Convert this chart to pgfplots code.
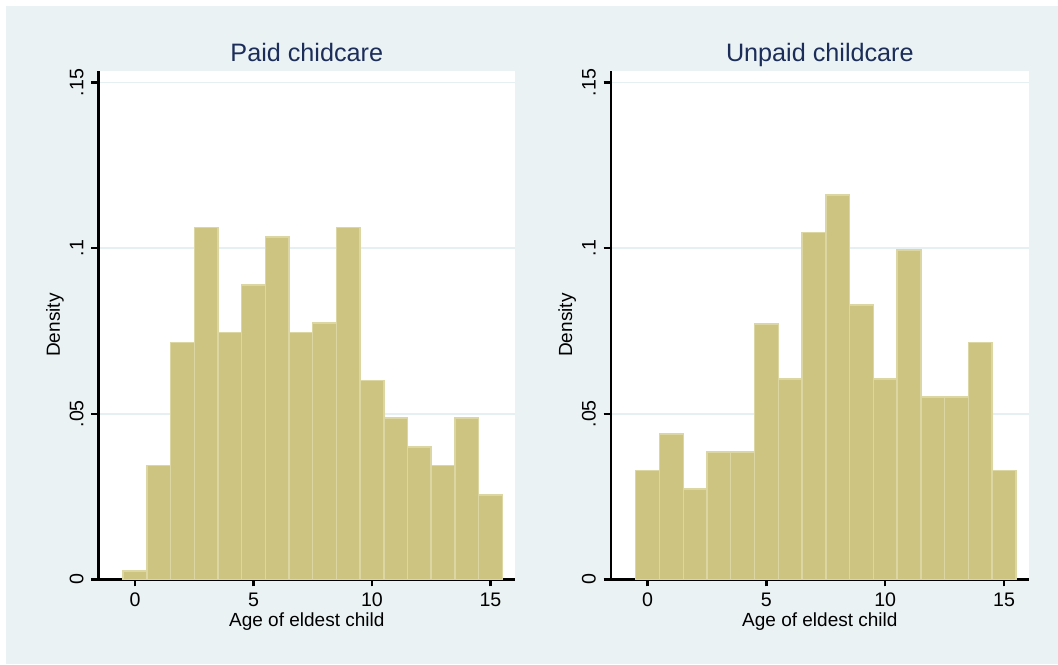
\documentclass[border=0pt]{standalone}
\usepackage{pgfplots}
\pgfplotsset{compat=1.18}
\usepackage{pgfplotstable}
\usepackage{fontspec}
\setmainfont{Liberation Sans}

\definecolor{bgc}{RGB}{234,242,243}
\definecolor{barfill}{RGB}{204,196,128}
\definecolor{barline}{RGB}{220,214,162}
\definecolor{ttl}{RGB}{28,45,90}
\definecolor{gridc}{RGB}{230,239,241}

% bin left edge, density (last row closes the final bin)
\pgfplotstableread{
x y
-0.5 0.0025
0.5 0.0343
1.5 0.0716
2.5 0.1062
3.5 0.0745
4.5 0.0889
5.5 0.1034
6.5 0.0745
7.5 0.0774
8.5 0.1062
9.5 0.0601
10.5 0.0487
11.5 0.0400
12.5 0.0343
13.5 0.0487
14.5 0.0255
15.5 0.0255
}\paid

\pgfplotstableread{
x y
-0.5 0.0329
0.5 0.0439
1.5 0.0273
2.5 0.0384
3.5 0.0384
4.5 0.0771
5.5 0.0605
6.5 0.1048
7.5 0.1161
8.5 0.0828
9.5 0.0605
10.5 0.0995
11.5 0.0550
12.5 0.0550
13.5 0.0716
14.5 0.0329
15.5 0.0329
}\unpaid

\pgfplotsset{
  statahist/.style={
    scale only axis,
    width=208.5pt, height=254.15pt,
    anchor=south west,
    xmin=-1.55, xmax=16.05,
    ymin=0, ymax=0.1535,
    axis x line*=bottom, axis y line*=left,
    axis line style={line width=1.2pt, black, -},
    axis background/.style={fill=white},
    tick align=outside,
    major tick length=3.5pt,
    tick style={line width=1.2pt, black},
    xtick={0,5,10,15},
    ytick={0,0.05,0.1,0.15},
    yticklabels={0,.05,.1,.15},
    /pgf/number format/assume math mode=true,
    ymajorgrids,
    grid style={gridc, line width=0.8pt},
    tick label style={font=\fontsize{9.8pt}{11pt}\selectfont},
    xticklabel style={anchor=base, yshift=-10.3pt},
    yticklabel style={rotate=90, anchor=base, yshift=4pt},
    label style={font=\fontsize{9.5pt}{11pt}\selectfont},
    xlabel={Age of eldest child},
    ylabel={Density},
    xlabel style={at={(axis description cs:0.5,0)}, anchor=base, yshift=-23.4pt},
    ylabel style={at={(axis description cs:-0.092,0.5)}, rotate=0, anchor=base},
    title style={at={(axis description cs:0.5,1)}, anchor=base, yshift=-1.5pt,
                 font=\fontsize{12.6pt}{14pt}\selectfont, text=ttl},
  },
  histbars/.style={ybar interval, fill=barfill, draw=barline, line width=0.7pt, mark=none},
}

\begin{document}
\begin{tikzpicture}
\fill[white] (0,0) rectangle (529pt,332pt);
\fill[bgc] (3pt,0) rectangle (529pt,329pt);

\begin{axis}[statahist, at={(49.15pt,42.35pt)}, title={Paid chidcare}]
\addplot[histbars] table[x=x, y=y] {\paid};
\end{axis}

\begin{axis}[statahist, at={(305.35pt,42.35pt)}, width=209.15pt, title={Unpaid childcare}]
\addplot[histbars] table[x=x, y=y] {\unpaid};
\end{axis}

\pgfresetboundingbox
\path (0,0) rectangle (529pt,332pt);
\end{tikzpicture}
\end{document}
